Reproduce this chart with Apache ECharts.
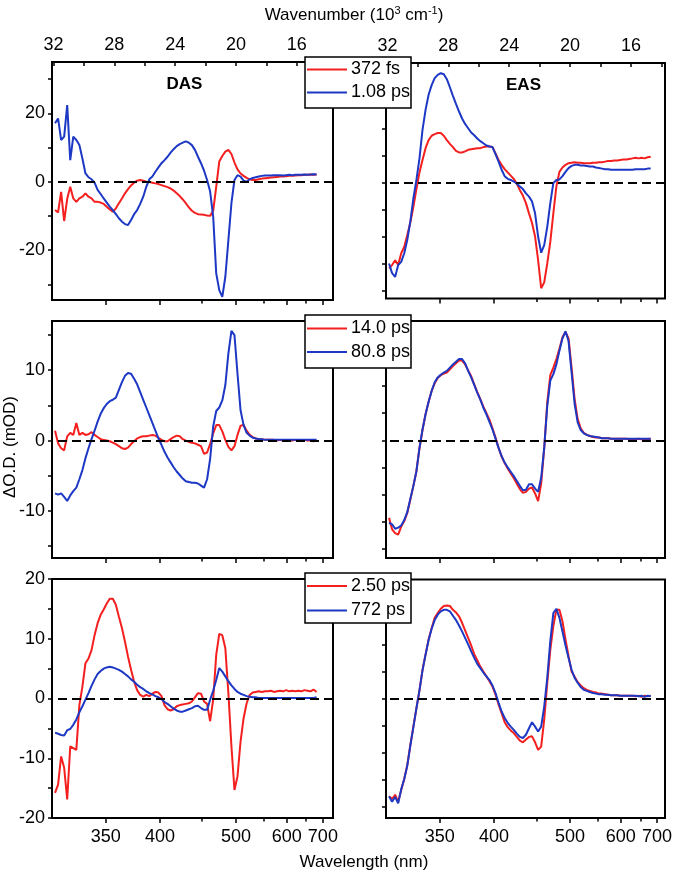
<!DOCTYPE html>
<html>
<head>
<meta charset="utf-8">
<script src="https://cdn.jsdelivr.net/npm/echarts@6/dist/echarts.min.js"></script>
<style>
html,body{margin:0;padding:0;background:#fff;}
#chart{width:674px;height:876px;}
</style>
</head>
<body>
<div id="chart"></div>
<script>
// ---------------- DATA ----------------
// x values: wavenumber in 10^3 cm^-1 (wavelength nm = 10000 / wavenumber)
const wavenumber = [31.9,31.7,31.5,31.3,31.1,30.9,30.7,30.5,30.3,30.1,29.9,29.7,29.5,29.3,29.1,28.9,28.7,28.5,28.3,28.1,27.9,27.7,27.5,27.3,27.1,26.9,26.7,26.5,26.3,26.1,25.9,25.7,25.5,25.3,25.1,24.9,24.7,24.5,24.3,24.1,23.9,23.7,23.5,23.3,23.1,22.9,22.7,22.5,22.3,22.1,21.9,21.7,21.5,21.3,21.1,20.9,20.7,20.5,20.3,20.1,19.9,19.7,19.5,19.3,19.1,18.9,18.7,18.5,18.3,18.1,17.9,17.7,17.5,17.3,17.1,16.9,16.7,16.5,16.3,16.1,15.9,15.7,15.5,15.3,15.1,14.9,14.7];

// DAS (left column), mOD
const das372fs = [-8.3,-9.0,-3.0,-11.5,-5.0,-1.5,-4.9,-5.9,-4.9,-4.4,
 -3.4,-4.4,-4.9,-5.9,-5.9,-6.1,-6.5,-7.3,-8.1,-8.8,
 -7.8,-6.3,-4.9,-3.4,-2.2,-1.1,-0.3,0.3,0.5,0.3,
 0,-0.1,-0.3,-0.5,-0.7,-1.0,-1.3,-1.6,-2.0,-2.6,
 -3.4,-4.2,-5.2,-6.3,-7.5,-8.5,-9.1,-9.5,-9.6,-9.7,
 -9.9,-10.0,-8.5,-1.5,5.9,7.5,8.8,9.3,8.1,5.6,
 3.6,2.4,1.7,1.1,0.7,0.5,0.5,0.7,0.9,1.0,
 1.1,1.2,1.3,1.4,1.5,1.5,1.6,1.7,1.7,1.8,
 1.9,1.9,2.0,2.0,2.1,2.0,2.1];
const das108ps = [17.1,18.5,12.2,13.2,22.4,6.3,13.2,12.2,10.7,6.8,
 2.4,1.3,0.7,-0.3,-2.4,-3.6,-4.9,-6.1,-7.3,-8.3,
 -9.5,-10.7,-11.7,-12.4,-12.7,-11.2,-9.5,-8.3,-6.5,-4.4,
 -1.5,0.7,1.5,2.9,4.2,5.4,6.3,7.3,8.5,9.5,
 10.4,11.0,11.4,11.8,11.4,10.7,9.3,7.3,5.4,3.2,
 0.5,-2.9,-10.2,-26.8,-31.7,-33.7,-27.8,-17.1,-6.3,0.5,
 1.9,1.5,0.3,0,0.7,1.1,1.3,1.5,1.7,1.8,
 1.8,1.8,1.9,1.9,1.9,1.8,1.9,2.0,1.9,2.0,
 2.0,2.0,2.1,2.0,2.1,2.2,2.1];
const das140ps = [1.4,-0.4,-1.1,-1.4,0.6,1.1,0.8,2.5,0.8,1.1,
 0.8,0.9,1.2,0.8,0.5,0.2,0.1,0,-0.1,-0.3,
 -0.5,-0.8,-1.1,-1.2,-1.0,-0.5,-0.1,0.3,0.5,0.6,
 0.6,0.7,0.8,0.7,0.4,0.1,-0.1,-0.1,0.2,0.5,
 0.7,0.6,0.2,0,-0.2,-0.3,-0.4,-0.6,-0.8,-1.9,
 -1.7,-0.5,1.0,2.2,2.2,1.3,0.1,-0.9,-1.4,-0.8,
 0.8,2.1,2.2,1.4,0.8,0.5,0.3,0.2,0.2,0.1,
 0.1,0.1,0.1,0.0,0.1,0.0,0.1,0.0,0.0,0.1,
 0.0,0.0,0.1,0.0,0.0,-0.1,0.0];
const das808ps = [-7.5,-7.7,-7.5,-8.0,-8.6,-7.8,-7.2,-6.7,-5.5,-4.2,
 -2.5,-1.1,0.2,1.4,2.7,3.8,4.6,5.2,5.6,5.8,
 6.1,7.2,8.3,9.2,9.6,9.5,8.8,8.0,6.9,5.8,
 4.7,3.6,2.5,1.4,0.3,-0.6,-1.6,-2.4,-3.1,-3.8,
 -4.4,-4.9,-5.4,-5.8,-5.9,-6.0,-6.0,-6.1,-6.4,-6.7,
 -5.5,-2.6,2.0,4.2,4.7,5.7,7.9,12.4,15.6,15.0,
 9.5,4.3,2.2,1.1,0.7,0.4,0.3,0.2,0.2,0.1,
 0.1,0.1,0.1,0.1,0.1,0.1,0.1,0.1,0.1,0.1,
 0.1,0.1,0.1,0.1,0.1,0.1,0.1];
const das250ps = [-15.8,-14.4,-9.7,-11.6,-16.9,-8.0,-8.3,-8.6,-1.1,2.0,
 5.9,6.7,8.1,10.6,12.6,14.0,14.9,15.9,16.7,16.7,
 15.7,13.7,11.8,9.5,7.0,4.8,2.8,1.4,0.6,0.3,
 0.6,0.4,0.8,1.1,1.0,0.4,-1.1,-1.8,-2.0,-1.8,
 -1.3,-1.1,-1.0,-0.9,-0.8,-0.5,0.2,0.9,0.8,-0.5,
 -0.9,-3.8,-0.2,7.3,10.8,10.6,8.4,0.9,-8.0,-15.3,
 -13.0,-7.2,-3.3,-0.8,0.6,1.0,1.1,1.2,1.1,1.2,
 1.2,1.3,1.1,1.2,1.3,1.2,1.4,1.2,1.3,1.2,
 1.3,1.2,1.4,1.3,1.2,1.5,1.1];
const das772ps = [-5.7,-5.9,-6.1,-6.2,-5.3,-5.1,-4.4,-3.5,-2.3,-1.3,
 -0.2,0.9,2.1,3.2,4.1,4.6,5.0,5.2,5.3,5.2,
 5.0,4.8,4.5,4.1,3.7,3.2,2.8,2.3,1.9,1.6,
 1.2,0.9,0.7,0.4,0.2,-0.1,-0.6,-0.9,-1.3,-1.7,
 -2.0,-2.2,-2.2,-2.0,-1.8,-1.6,-1.3,-1.2,-1.6,-1.9,
 -1.9,-0.2,1.3,3.1,5.1,4.5,3.7,2.9,2.2,1.6,
 1.1,0.8,0.6,0.4,0.3,0.2,0.2,0.1,0.1,0.1,
 0.1,0.1,0.1,0.1,0.1,0.1,0.1,0.1,0.1,0.1,
 0.1,0.1,0.1,0.1,0.1,0.1,0.2];

// EAS (right column)
const eas372fs = [-15.9,-15.3,-14.4,-15.3,-13.1,-11.9,-9.7,-7.4,-4.5,-1.2,
 1.9,4.2,6.4,7.9,8.7,9.0,9.2,9.2,8.7,7.9,
 7.2,6.6,5.9,5.6,5.6,5.8,6.1,6.2,6.3,6.4,
 6.4,6.6,6.7,6.7,6.6,5.4,4.2,3.3,2.5,1.9,
 1.3,0.7,-0.2,-1.4,-2.4,-3.8,-5.7,-7.5,-10.0,-14.4,
 -19.6,-18.5,-15.0,-11.0,-5.7,-0.7,2.0,2.8,3.3,3.6,
 3.7,3.8,3.7,3.7,3.6,3.6,3.6,3.7,3.7,3.8,
 3.8,3.9,4.0,4.0,4.1,4.1,4.2,4.3,4.3,4.4,
 4.5,4.6,4.5,4.6,4.5,4.7,4.8];
const eas108ps = [-15.0,-16.8,-17.5,-15.3,-14.7,-13.1,-10.6,-7.2,-2.9,0.5,
 4.5,9.8,13.5,16.3,18.1,19.4,20.0,20.3,20.1,19.2,
 17.7,16.1,14.6,13.2,11.9,10.9,10.1,9.3,8.8,8.2,
 7.7,7.3,6.9,6.7,6.6,5.3,3.9,2.4,1.2,0.7,
 0.5,0.2,-0.2,-0.7,-1.2,-2.0,-2.6,-3.5,-5.7,-10.0,
 -13.0,-11.6,-8.2,-3.8,-0.1,0.5,0.6,1.2,2.0,2.7,
 3.1,3.3,3.3,3.2,3.2,3.1,3.0,3.0,2.8,2.7,
 2.6,2.5,2.5,2.4,2.4,2.4,2.4,2.4,2.4,2.4,
 2.4,2.5,2.5,2.5,2.5,2.6,2.6];
const eas140ps = [-14.3,-16.4,-17.1,-17.4,-15.9,-14.9,-13.4,-10.9,-8.4,-5.7,
 -1.5,1.9,4.8,7.1,9.1,10.5,11.5,12.0,12.3,12.5,
 13.1,13.7,14.2,14.7,14.7,14.0,12.9,11.8,10.3,8.9,
 7.6,6.2,5.0,3.8,2.2,0.5,-1.4,-3.0,-4.2,-5.2,
 -6.1,-7.0,-8.0,-9.0,-9.7,-9.5,-8.9,-8.7,-9.8,-11.2,
 -8.0,-1.5,7.0,12.0,13.4,15.0,16.9,19.0,20.0,18.8,
 13.4,7.6,3.9,2.2,1.4,1.0,0.8,0.6,0.5,0.5,
 0.4,0.4,0.4,0.3,0.3,0.3,0.3,0.3,0.3,0.2,
 0.2,0.2,0.3,0.2,0.2,0.2,0.3];
const eas808ps = [-15.2,-15.5,-16.3,-16.1,-15.7,-14.7,-13.2,-10.8,-8.4,-5.7,
 -1.4,2.0,4.8,7.1,9.1,10.7,11.6,12.1,12.5,12.8,
 13.4,14.0,14.5,15.0,15.0,14.2,12.8,11.6,10.2,8.8,
 7.5,6.0,4.8,3.4,2.0,0.3,-1.4,-2.9,-4.1,-5.0,
 -5.8,-6.6,-7.5,-8.4,-9.2,-9.1,-8.1,-8.1,-8.9,-9.5,
 -6.9,-1.4,6.3,11.0,12.2,14.0,16.5,18.8,20.1,18.3,
 12.5,6.7,3.3,1.9,1.3,1.0,0.8,0.7,0.6,0.5,
 0.4,0.4,0.4,0.3,0.3,0.3,0.3,0.3,0.3,0.3,
 0.3,0.3,0.3,0.3,0.3,0.3,0.3];
const eas250ps = [-18.0,-18.5,-17.7,-19.0,-16.8,-14.8,-12.2,-8.5,-5.1,-1.7,
 1.6,5.4,8.2,11.0,13.1,15.0,15.9,16.7,17.2,17.3,
 17.2,16.5,16.0,15.3,14.1,12.7,11.3,9.9,8.3,7.2,
 6.0,5.1,4.2,3.3,2.3,0.8,-1.0,-2.6,-4.3,-5.2,
 -5.8,-6.3,-7.0,-7.7,-8.0,-7.5,-7.0,-6.9,-8.0,-9.4,
 -8.8,-3.8,3.0,9.1,13.5,16.5,16.5,14.4,11.0,7.9,
 5.1,4.1,3.1,2.5,2.0,1.7,1.5,1.3,1.2,1.0,
 1.0,0.9,0.8,0.7,0.7,0.7,0.6,0.6,0.6,0.6,
 0.6,0.5,0.6,0.4,0.6,0.5,0.6];
const eas772ps = [-18.0,-19.0,-18.1,-19.3,-16.7,-14.8,-12.3,-8.6,-5.2,-1.7,
 1.6,5.3,8.2,10.9,13.0,14.6,15.6,16.2,16.5,16.5,
 16.2,15.4,14.6,13.6,12.5,11.3,10.1,8.8,7.6,6.5,
 5.7,4.9,4.2,3.5,2.5,1.1,-0.7,-2.3,-3.5,-4.4,
 -5.1,-5.7,-6.4,-7.0,-7.2,-6.6,-5.4,-4.3,-5.1,-6.0,
 -5.1,-1.4,3.9,10.7,15.9,16.7,15.0,12.5,9.9,7.6,
 5.4,3.9,3.0,2.2,1.7,1.5,1.3,1.1,1.0,0.9,
 0.9,0.8,0.8,0.7,0.7,0.7,0.6,0.6,0.6,0.6,
 0.6,0.6,0.5,0.6,0.4,0.6,0.5];

// legend names per row
const rowNames = [['372 fs','1.08 ps'],['14.0 ps','80.8 ps'],['2.50 ps','772 ps']];

// tick values
const wavenumberLabels = [32, 28, 24, 20, 16];
const wavenumberMinor = [30, 26, 22, 18, 14];
const wavelengthLabels = [350, 400, 500, 600, 700];
const wavelengthMinor = [450, 550, 650];
const yTicksTop = [-30,-20,-10,0,10,20,30];
const yLabelsTop = [-20,0,20];
const yTicksMid = [-15,-10,-5,0,5,10,15];
const yLabelsMid = [-10,0,10];
const yTicksBot = [-20,-15,-10,-5,0,5,10,15,20];
const yLabelsBot = [-20,-10,0,10,20];
const yTicksRight = [-20,-15,-10,-5,0,5,10,15,20];

// ---------------- CHART ----------------
const RED = '#f41f1f', BLUE = '#1d38c4';
const FONT = 'Liberation Sans, Arial, sans-serif';
const toK = nm => 10000 / nm;

const panels = [
  {row:0,col:0,top:62,height:238,ymin:-34.6,ymax:35,yt:yTicksTop,yl:yLabelsTop,s:[das372fs,das108ps]},
  {row:0,col:1,top:63,height:235.5,ymin:-21.5,ymax:22.2,yt:yTicksRight,yl:null,s:[eas372fs,eas108ps]},
  {row:1,col:0,top:321,height:237,ymin:-16.7,ymax:17,yt:yTicksMid,yl:yLabelsMid,s:[das140ps,das808ps]},
  {row:1,col:1,top:321,height:237,ymin:-21.7,ymax:22,yt:yTicksRight,yl:null,s:[eas140ps,eas808ps]},
  {row:2,col:0,top:579,height:239,ymin:-20,ymax:20,yt:yTicksBot,yl:yLabelsBot,s:[das250ps,das772ps]},
  {row:2,col:1,top:579.5,height:238.5,ymin:-22,ymax:22.1,yt:yTicksRight,yl:null,s:[eas250ps,eas772ps]}
];
const cols = [{left:52,width:281,min:13.62,max:32.1},{left:386,width:279,min:13.76,max:32.1}];

const grid = [], xAxis = [], yAxis = [], series = [];
const tickStyle = {color:'#000', width:1.5};
const labelStyle = {color:'#000', fontSize:18, fontFamily:FONT};

panels.forEach((p, gi) => {
  const c = cols[p.col];
  grid.push({left:c.left, top:p.top, width:c.width, height:p.height, show:true,
             borderColor:'#000', borderWidth:2, backgroundColor:'transparent',
             containLabel:false, outerBoundsMode:'none'});
  const base = {gridIndex:gi, type:'value', inverse:true, min:c.min, max:c.max,
                axisLine:{show:false, onZero:false}, splitLine:{show:false}};
  const mainIdx = xAxis.length;
  // bottom: wavelength majors
  xAxis.push(Object.assign({}, base, {position:'bottom',
    axisTick:{show:true, length:5, lineStyle:tickStyle, customValues: wavelengthLabels.map(toK)},
    axisLabel:{show:p.row===2, margin:10, ...labelStyle, customValues: wavelengthLabels.map(toK),
               formatter: v => String(Math.round(10000 / v))}}));
  // bottom: wavelength minors
  xAxis.push(Object.assign({}, base, {position:'bottom',
    axisTick:{show:true, length:3.5, lineStyle:tickStyle, customValues: wavelengthMinor.map(toK)},
    axisLabel:{show:false}}));
  // top: wavenumber
  xAxis.push(Object.assign({}, base, {position:'top',
    axisTick:{show:p.row===0, inside:true, length:4, lineStyle:tickStyle,
              customValues: wavenumberLabels.concat(wavenumberMinor)},
    axisLabel:{show:p.row===0, margin:8, ...labelStyle, customValues: wavenumberLabels,
               formatter: v => String(v)}}));
  yAxis.push({gridIndex:gi, type:'value', min:p.ymin, max:p.ymax, position:'left',
    axisLine:{show:false, onZero:false}, splitLine:{show:false},
    axisTick:{show:true, length:4, lineStyle:tickStyle, customValues:p.yt},
    axisLabel:{show:!!p.yl, margin:7, ...labelStyle, customValues:p.yl || [], formatter: v => String(v)}});
  const names = rowNames[p.row];
  p.s.forEach((arr, si) => {
    const ser = {type:'line', name:names[si], xAxisIndex:mainIdx, yAxisIndex:gi,
      data: wavenumber.map((k, i) => [k, arr[i]]),
      showSymbol:false, symbol:'none', animation:false, silent:true,
      lineStyle:{color: si===0 ? RED : BLUE, width:2}, itemStyle:{color: si===0 ? RED : BLUE},
      z: 3 + si};
    if (si === 0) {
      ser.markLine = {silent:true, symbol:['none','none'], label:{show:false},
        lineStyle:{color:'#000', type:[9,5], width:2}, data:[{yAxis:0}], animation:false};
    }
    series.push(ser);
  });
});

// legends & texts as graphics
const graphic = [];
const legendBoxes = [
  {top:57, y1:69.5, y2:92.5, h:51},
  {top:315, y1:328.5, y2:352, h:53},
  {top:573, y1:586, y2:610.5, h:50}
];
legendBoxes.forEach((b, r) => {
  graphic.push({type:'rect', z:100, shape:{x:305, y:b.top, width:106, height:b.h},
    style:{fill:'#fff', stroke:'#000', lineWidth:1.5}});
  [b.y1, b.y2].forEach((yy, i) => {
    graphic.push({type:'line', z:101, shape:{x1:307, y1:yy, x2:347, y2:yy},
      style:{stroke: i===0 ? RED : BLUE, lineWidth:2}});
    graphic.push({type:'text', z:101, style:{text:rowNames[r][i], x:351, y:yy,
      fill:'#000', fontSize:18, fontFamily:FONT, verticalAlign:'middle', align:'left'}});
  });
});
graphic.push({type:'text', z:100, style:{text:'DAS', x:184.5, y:84, fill:'#000', fontSize:17,
  fontWeight:'bold', fontFamily:FONT, align:'center', verticalAlign:'middle'}});
graphic.push({type:'text', z:100, style:{text:'EAS', x:523.5, y:85, fill:'#000', fontSize:17,
  fontWeight:'bold', fontFamily:FONT, align:'center', verticalAlign:'middle'}});
graphic.push({type:'text', z:100, style:{text:'Wavelength (nm)', x:364, y:862, fill:'#000', fontSize:17,
  fontFamily:FONT, align:'center', verticalAlign:'middle'}});
graphic.push({type:'text', z:100, rotation:Math.PI/2, x:10, y:447,
  style:{text:'ΔO.D. (mOD)', x:0, y:0, fill:'#000', fontSize:17,
  fontFamily:FONT, align:'center', verticalAlign:'middle'}});
graphic.push({type:'text', z:100, style:{
  text:'{a|Wavenumber (10}{s|3}{a| cm}{s|-1}{a|)}', x:354, y:15, align:'center', verticalAlign:'middle',
  rich:{a:{fontSize:17, fontFamily:FONT, fill:'#000', color:'#000', lineHeight:20},
        s:{fontSize:11, fontFamily:FONT, fill:'#000', color:'#000', verticalAlign:'top', lineHeight:20}}}});

const chart = echarts.init(document.getElementById('chart'), null, {renderer:'canvas'});
chart.setOption({animation:false, backgroundColor:'#fff', grid, xAxis, yAxis, series, graphic});
</script>
</body>
</html>
